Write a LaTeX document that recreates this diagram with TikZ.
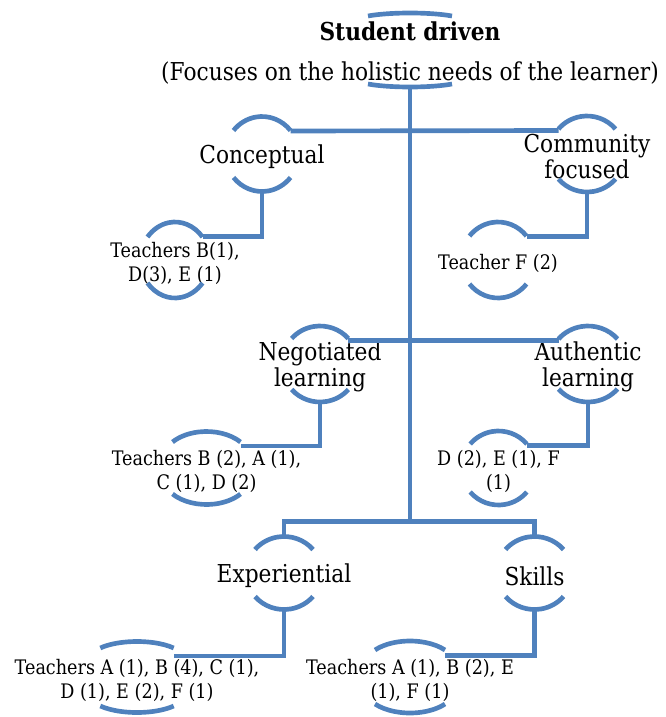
\documentclass[tikz,border=0pt]{standalone}
\usepackage{fontspec}
\setmainfont{DejaVu Serif}[FakeStretch=0.88]
\usetikzlibrary{calc}
\definecolor{smartblue}{RGB}{79,129,189}

\newcommand{\brackets}[4]{%
    \path (#1.center) ++(0,3+#3) coordinate (#1-t);
    \path (#1.center) ++(0,3-#3) coordinate (#1-b);
    \path (#1-t) ++(-#2,-14.5) coordinate (#1-tl);
    \path (#1-t) ++(#2,-14.5) coordinate (#1-tr);
    \draw [bracket] (#1-t) ++(#2,-#4) arc[start angle=40, end angle=140, x radius={#2/cos(40)}, y radius={#4/(1-sin(40))}];
    \draw [bracket] (#1-b) ++(-#2,#4) arc[start angle=220, end angle=320, x radius={#2/cos(40)}, y radius={#4/(1-sin(40))}];
}

\begin{document}
\begin{tikzpicture}[x=0.75pt, y=0.75pt,
    bracket/.style={line width=3.5pt, color=smartblue},
    link/.style={line width=3.5pt, color=smartblue},
    biglabel/.style={align=center, inner sep=0pt, font=\fontsize{18.5}{19.5}\selectfont},
    smalllabel/.style={align=center, inner sep=0pt, font=\fontsize{15}{18}\selectfont}]
    \useasboundingbox (0,0) rectangle (665,-717);

    \node [biglabel] (root) at (410,-53) {\textbf{Student driven}\\[10.5pt](Focuses on the holistic needs of the learner)};
    \node [biglabel] (concept) at (262,-157) {Conceptual};
    \node [biglabel] (commun) at (587,-157) {Community\\focused};
    \node [smalllabel] (teachB1) at (175,-263) {Teachers B(1),\\D(3), E (1)};
    \node [smalllabel] (teachF) at (498,-263) {Teacher F (2)};
    \node [biglabel] (negot) at (320,-367) {Negotiated\\learning};
    \node [biglabel] (authen) at (588,-367) {Authentic\\learning};
    \node [smalllabel] (teachB2) at (206.5,-471) {Teachers B (2), A (1),\\C (1), D (2)};
    \node [smalllabel] (teachD2) at (498.5,-471) {D (2), E (1), F\\(1)};
    \node [biglabel] (exper) at (284,-576) {Experiential};
    \node [biglabel] (skills) at (534.5,-576) {Skills};
    \node [smalllabel] (teachA1) at (137,-680) {Teachers A (1), B (4), C (1),\\D (1), E (2), F (1)};
    \node [smalllabel] (teachA2) at (410,-680) {Teachers A (1), B (2), E\\(1), F (1)};

    \brackets{root}{42}{37}{3}
    \brackets{concept}{28.5}{37.5}{14}
    \brackets{commun}{28.5}{38}{13}
    \brackets{teachB1}{27.5}{38}{15}
    \brackets{teachF}{28.5}{38}{14}
    \brackets{negot}{28.3}{38}{12.5}
    \brackets{authen}{29.5}{38}{13}
    \brackets{teachB2}{34}{36.5}{10.5}
    \brackets{teachD2}{28.3}{37}{13}
    \brackets{exper}{29}{36.5}{13}
    \brackets{skills}{29}{36.5}{13}
    \brackets{teachA1}{36.7}{35.5}{6.5}
    \brackets{teachA2}{35}{36}{9}

    \coordinate (fork) at (410,-521.7);
    \draw [link] (root-b) -- (fork);
    \draw [link] (concept-tr) -- (commun-tl);
    \draw [link] (negot-tr) -- (authen-tl);
    \draw [link] (exper-t) |- (fork) -| (skills-t);
    \draw [link] (concept-b) |- (teachB1-tr);
    \draw [link] (commun-b) |- (teachF-tr);
    \draw [link] (negot-b) |- (teachB2-tr);
    \draw [link] (authen-b) |- (teachD2-tr);
    \draw [link] (exper-b) |- (teachA1-tr);
    \draw [link] (skills-b) |- (teachA2-tr);
\end{tikzpicture}
\end{document}
